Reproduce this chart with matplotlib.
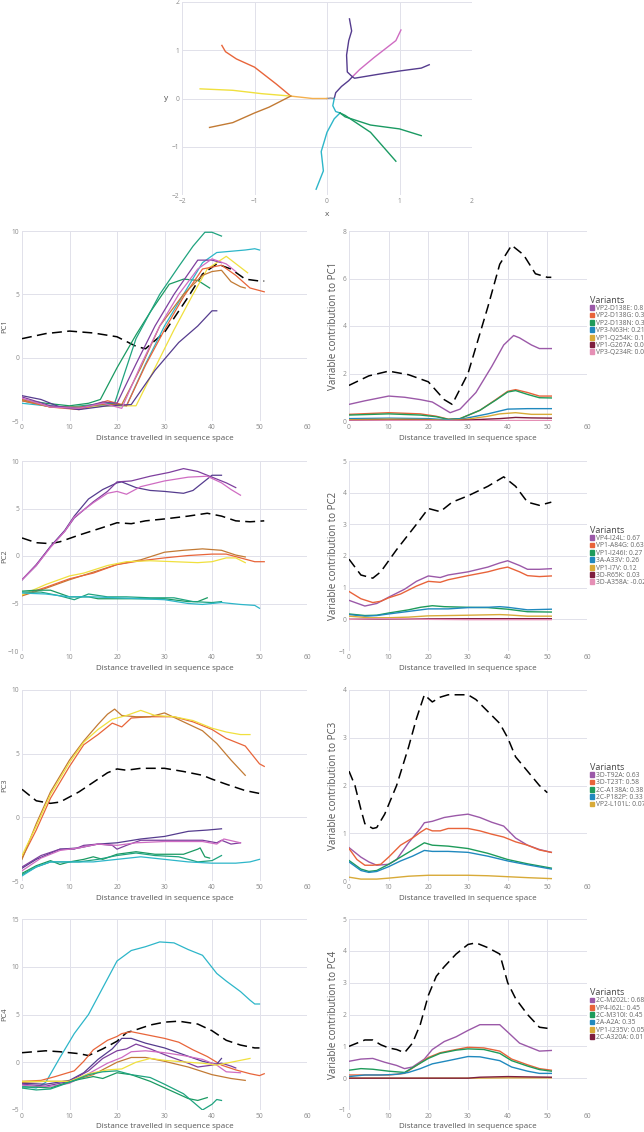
import matplotlib
matplotlib.use("Agg")
import matplotlib.pyplot as plt
from matplotlib.patches import Patch

plt.rcParams['font.family'] = ['Open Sans', 'DejaVu Sans']

# lineage colours (tree + left panels)
LINEAGE_COLORS = {
    'dpurple': '#553C8E', 'purple': '#7E3F9E', 'pink': '#CF6CC2',
    'orange': '#E8653A', 'brown': '#C27A34', 'yellow': '#F0E03E',
    'green': '#1A9A62', 'green2': '#1FA37F', 'cyan': '#2DB6C9',
    'stem': '#F4B04E', 'root': '#8A8A9A',
}
# variant colours (right panels), by rank
VARIANT_COLORS = ['#9B59A8', '#E8633A', '#1E9B5A', '#2089BE', '#D8AA38', '#7E1E3E', '#E58FB5']

# ---- top tree (x, y) ----
TREE = [
    ('root', [0.0, 0.05, 0.1], [0.0, 0.01, 0.0]),
    ('stem', [0.0, -0.2, -0.5], [0.0, 0.0, 0.05]),
    ('orange', [-0.5, -0.7, -1.0, -1.25, -1.4, -1.45], [0.05, 0.3, 0.65, 0.82, 0.97, 1.1]),
    ('yellow', [-0.5, -0.9, -1.3, -1.75], [0.05, 0.1, 0.17, 0.2]),
    ('brown', [-0.5, -0.8, -1.0, -1.3, -1.62], [0.05, -0.18, -0.3, -0.5, -0.6]),
    ('dpurple', [0.1, 0.12, 0.2, 0.3, 0.35], [0.0, 0.12, 0.25, 0.37, 0.45]),
    ('dpurple', [0.35, 0.28, 0.27, 0.3, 0.34, 0.31], [0.45, 0.55, 0.9, 1.2, 1.4, 1.65]),
    ('pink', [0.35, 0.45, 0.65, 0.95, 1.02], [0.45, 0.6, 0.85, 1.2, 1.42]),
    ('dpurple', [0.35, 0.38, 0.7, 1.0, 1.3, 1.41], [0.45, 0.42, 0.5, 0.57, 0.63, 0.7]),
    ('cyan', [0.1, 0.08, 0.12, 0.18], [0.0, -0.15, -0.27, -0.3]),
    ('cyan', [0.18, 0.1, 0.0, -0.08, -0.05, -0.15], [-0.3, -0.42, -0.7, -1.1, -1.5, -1.88]),
    ('green', [0.18, 0.25, 0.6, 1.0, 1.3], [-0.3, -0.38, -0.55, -0.63, -0.77]),
    ('green', [0.18, 0.25, 0.6, 0.95], [-0.3, -0.35, -0.7, -1.3]),
]

# ---- left panels: PC score along each lineage ----
PC1_DASH = [(0, 1.5), (5, 1.9), (10, 2.1), (15, 1.95), (20, 1.65), (24, 0.9), (26, 0.7), (30, 2.0),
            (35, 4.8), (38, 6.6), (41, 7.4), (44, 7.0), (47, 6.2), (50, 6.05), (51, 6.05)]
PC1_LINES = [
    ('green', [(0, -3.3), (5, -3.6), (10, -3.8), (14, -3.6), (16.5, -3.3), (20, -0.8), (24, 1.8), (27, 3.6), (31, 5.8), (34, 6.2), (37, 6.1), (39.5, 5.5)]),
    ('green2', [(0, -3.4), (5, -3.8), (10, -3.9), (15, -3.7), (19.5, -3.6), (24, 1.5), (29, 5.0), (33, 7.2), (36, 8.8), (38.5, 9.9), (40, 9.9), (42, 9.6)]),
    ('cyan', [(0, -3.6), (5, -3.8), (10, -3.9), (16, -3.8), (22, -3.8), (26, -0.5), (30, 2.5), (34, 5.0), (38, 7.5), (41, 8.3), (47, 8.5), (49, 8.6), (50, 8.5)]),
    ('yellow', [(0, -3.3), (6, -3.9), (12, -4.0), (18, -3.8), (24, -3.8), (28, -0.8), (32, 2.2), (36, 5.0), (39, 7.0), (43, 8.0), (47.5, 6.7)]),
    ('orange', [(0, -3.4), (6, -3.9), (12, -4.1), (18, -3.4), (22, -3.8), (26, -0.6), (30, 2.2), (34, 4.8), (38, 7.0), (42, 7.3), (45, 6.5), (48, 5.5), (51, 5.2)]),
    ('brown', [(0, -3.3), (6, -3.9), (12, -3.9), (17, -3.7), (21, -3.7), (25, -0.8), (29, 2.5), (34, 5.0), (38, 6.5), (40, 6.8), (42, 6.9), (44, 6.0), (46, 5.6), (47, 5.5)]),
    ('dpurple', [(0, -3.0), (4, -3.3), (8, -3.9), (12, -4.1), (18, -3.8), (23, -3.7), (28, -1.0), (33, 1.2), (37, 2.5), (40, 3.7), (41, 3.7)]),
    ('purple', [(0, -3.1), (6, -3.8), (12, -4.0), (17, -3.5), (20, -3.6), (24, -0.5), (28, 2.5), (32, 5.0), (37, 7.7), (40, 7.7), (42, 7.5)]),
    ('pink', [(0, -3.2), (6, -3.9), (12, -4.0), (17, -3.6), (21, -4.0), (25, -0.6), (29, 2.5), (33, 5.0), (37, 7.0), (40, 7.8), (43, 7.4), (45, 6.8)]),
]

PC2_DASH = [(0, 1.9), (3, 1.4), (6, 1.3), (8, 1.5), (12, 2.2), (17, 3.0), (20, 3.5), (23, 3.4), (26, 3.7),
            (30, 3.9), (35, 4.2), (39, 4.5), (42, 4.2), (45, 3.7), (48, 3.6), (51, 3.7)]
PC2_LINES = [
    ('dpurple', [(0, -2.5), (3, -1.0), (6, 1.0), (9, 2.7), (11, 4.2), (14, 6.0), (17, 7.0), (20, 7.7), (21, 7.8), (24, 7.2), (27, 6.9), (30, 6.8), (34, 6.6), (36, 6.9), (38, 7.7), (40, 8.5), (42, 8.5)]),
    ('purple', [(0, -2.5), (3, -0.9), (6, 1.0), (9, 2.6), (11, 4.0), (15, 5.7), (18, 6.8), (20, 7.8), (23, 7.9), (27, 8.4), (31, 8.8), (34, 9.2), (37, 8.9), (40, 8.3), (43, 7.7), (45, 7.2)]),
    ('pink', [(0, -2.5), (3, -1.0), (6, 0.9), (9, 2.6), (11, 4.1), (15, 5.6), (18, 6.6), (20, 6.8), (22, 6.5), (25, 7.3), (30, 7.9), (35, 8.3), (39, 8.4), (42, 7.7), (44, 7.0), (46, 6.4)]),
    ('brown', [(0, -4.2), (5, -3.4), (10, -2.5), (15, -1.7), (20, -0.9), (25, -0.4), (30, 0.4), (34, 0.6), (38, 0.75), (42, 0.6), (45, 0.1), (47, -0.1)]),
    ('orange', [(0, -4.1), (5, -3.3), (10, -2.4), (15, -1.8), (20, -0.9), (25, -0.5), (30, -0.2), (35, 0.05), (40, 0.2), (43, 0.2), (46, -0.2), (49, -0.6), (51, -0.6)]),
    ('yellow', [(0, -4.1), (5, -3.0), (10, -2.1), (13, -1.8), (18, -1.0), (22, -0.6), (27, -0.5), (32, -0.6), (37, -0.7), (40, -0.6), (43, -0.2), (45, -0.2), (47, -0.7)]),
    ('green', [(0, -3.7), (3, -3.6), (6, -3.6), (10, -4.3), (14, -4.3), (16, -4.5), (20, -4.5), (25, -4.5), (30, -4.5), (35, -4.8), (37, -4.8), (39, -4.4)]),
    ('green2', [(0, -3.8), (4, -3.8), (8, -4.2), (11, -4.6), (14, -4.0), (18, -4.3), (22, -4.3), (27, -4.4), (32, -4.4), (36, -4.8), (40, -4.9), (42, -4.8)]),
    ('cyan', [(0, -3.9), (5, -4.0), (10, -4.3), (15, -4.3), (20, -4.4), (25, -4.5), (30, -4.6), (35, -5.0), (38, -5.1), (42, -4.9), (46, -5.1), (49, -5.2), (50, -5.5)]),
]

PC3_DASH = [(0, 2.2), (3, 1.3), (6, 1.1), (8, 1.2), (12, 2.0), (16, 3.0), (18, 3.5), (20, 3.8), (22, 3.7),
            (25, 3.85), (30, 3.85), (34, 3.6), (38, 3.3), (40, 3.0), (43, 2.6), (47, 2.1), (51, 1.8)]
PC3_LINES = [
    ('orange', [(0, -3.2), (3, -1.0), (6, 1.5), (10, 4.0), (13, 5.7), (16, 6.5), (19, 7.4), (21, 7.1), (23, 7.8), (27, 7.9), (32, 7.9), (36, 7.5), (40, 6.9), (43, 6.2), (47, 5.6), (50, 4.2), (51, 4.0)]),
    ('brown', [(0, -3.3), (3, -0.5), (6, 2.0), (10, 4.5), (13, 6.0), (16, 7.3), (18, 8.1), (19.5, 8.5), (21, 8.0), (24, 7.9), (27, 7.9), (30, 8.2), (34, 7.5), (38, 6.8), (41, 5.8), (44, 4.5), (47, 3.3)]),
    ('yellow', [(0, -3.0), (3, -0.7), (6, 1.8), (10, 4.3), (13, 5.9), (16, 6.9), (19, 7.7), (22, 8.0), (25, 8.4), (28, 8.0), (32, 7.9), (36, 7.6), (40, 7.0), (43, 6.7), (46, 6.5), (48, 6.5)]),
    ('dpurple', [(0, -4.0), (3, -3.3), (8, -2.5), (12, -2.4), (16, -2.1), (20, -2.0), (25, -1.7), (30, -1.5), (35, -1.1), (39, -1.0), (42, -0.9)]),
    ('purple', [(0, -3.9), (4, -3.0), (8, -2.5), (11, -2.5), (13, -2.2), (16, -2.1), (19, -2.2), (20, -2.5), (22, -2.2), (25, -1.8), (30, -1.8), (35, -1.8), (38, -1.8), (41, -2.0), (42, -1.8), (44, -2.1), (46, -2.0)]),
    ('pink', [(0, -4.2), (4, -3.2), (8, -2.6), (12, -2.4), (16, -2.1), (20, -2.2), (24, -2.0), (30, -1.9), (38, -1.9), (41, -2.1), (42.5, -1.7), (46, -2.0)]),
    ('green', [(0, -4.4), (3, -3.8), (6, -3.4), (8, -3.7), (10, -3.5), (13, -3.3), (15, -3.1), (17, -3.3), (20, -2.9), (24, -2.7), (28, -2.9), (34, -2.9), (37, -2.5), (37.5, -2.4), (38.5, -3.1), (39.5, -3.2)]),
    ('green2', [(0, -4.5), (3, -3.9), (6, -3.5), (12, -3.5), (16, -3.3), (20, -3.0), (24, -2.8), (28, -3.0), (33, -3.1), (37, -3.5), (40, -3.4), (42, -3.0)]),
    ('cyan', [(0, -4.6), (3, -3.9), (6, -3.5), (10, -3.5), (15, -3.5), (20, -3.3), (25, -3.1), (30, -3.3), (35, -3.5), (40, -3.6), (45, -3.6), (48, -3.5), (50, -3.3)]),
]

PC4_DASH = [(0, 1.0), (5, 1.2), (8, 1.1), (12, 0.9), (14, 0.7), (17, 1.4), (20, 2.2), (22, 3.1), (24, 3.4),
            (27, 3.9), (30, 4.2), (33, 4.3), (37, 4.0), (40, 3.3), (43, 2.3), (46, 1.8), (49, 1.5), (50, 1.5)]
PC4_LINES = [
    ('cyan', [(0, -2.5), (3, -2.7), (5, -2.1), (8, 0.5), (11, 3.0), (14, 5.0), (17, 7.8), (20, 10.6), (23, 11.7), (26, 12.1), (29, 12.6), (32, 12.5), (35, 11.8), (38, 11.2), (41, 9.3), (43, 8.5), (46, 7.4), (48, 6.5), (49, 6.1), (50, 6.1)]),
    ('orange', [(0, -2.0), (4, -1.9), (7, -1.5), (11, -0.9), (13, 0.1), (15, 1.3), (18, 2.3), (20, 2.7), (21, 3.0), (23, 3.2), (27, 2.8), (30, 2.5), (33, 2.1), (36, 1.3), (39, 0.6), (42, -0.3), (45, -0.8), (48, -1.2), (50, -1.4), (51, -1.2)]),
    ('dpurple', [(0, -2.2), (5, -2.3), (10, -1.9), (13, -1.1), (16, 0.3), (19, 1.4), (21, 2.5), (23, 2.5), (26, 2.0), (30, 1.5), (34, 0.8), (38, 0.1), (41, -0.2), (42, 0.4)]),
    ('purple', [(0, -2.3), (5, -2.5), (10, -2.0), (14, -0.9), (17, 0.4), (20, 1.2), (22, 1.4), (24, 1.9), (27, 1.4), (31, 0.6), (35, -0.1), (37, -0.5), (40, -0.3), (42, -0.1), (44, -0.4), (45, -0.6)]),
    ('pink', [(0, -2.4), (5, -2.6), (10, -2.2), (14, -1.2), (18, -0.1), (21, 0.5), (23, 1.1), (26, 1.2), (30, 1.0), (34, 0.7), (38, 0.3), (41, -0.3), (43, -1.0), (46, -1.1)]),
    ('brown', [(0, -2.1), (5, -2.0), (10, -2.0), (15, -1.3), (20, 0.0), (23, 0.5), (26, 0.5), (30, 0.1), (35, -0.5), (40, -1.3), (44, -1.7), (47, -1.9)]),
    ('yellow', [(0, -2.0), (5, -2.0), (10, -2.0), (14, -1.2), (18, -0.8), (21, -0.7), (24, 0.0), (27, 0.4), (30, 0.2), (35, 0.0), (38, -0.1), (41, -0.3), (44, 0.0), (48, 0.4)]),
    ('green', [(0, -2.6), (3, -2.6), (6, -2.7), (9, -2.2), (12, -1.8), (15, -1.5), (17, -1.7), (20, -1.1), (23, -1.3), (27, -2.0), (31, -2.9), (35, -3.8), (37, -4.0), (39, -3.7)]),
    ('green2', [(0, -2.7), (3, -2.9), (6, -2.8), (10, -2.1), (14, -1.3), (17, -1.0), (20, -0.9), (23, -1.3), (27, -1.6), (30, -2.3), (34, -3.3), (38, -5.0), (40, -4.4), (41, -3.9), (42, -4.0)]),
]

# ---- right panels: variable contributions ----
PC1_VARIANTS = ['VP2-D138E: 0.8', 'VP2-D138G: 0.35', 'VP2-D138N: 0.38', 'VP3-N63H: 0.21',
                'VP1-Q254K: 0.14', 'VP1-G267A: 0.07', 'VP3-Q234R: 0.02']
PC1_CONTRIB = [
    [(0, 0.7), (4, 0.85), (10, 1.05), (14, 1.0), (18, 0.9), (21, 0.8), (24, 0.5), (25.5, 0.35), (28, 0.5), (32, 1.2), (36, 2.3), (39, 3.2), (41.5, 3.6), (43, 3.5), (46, 3.2), (48, 3.05), (51, 3.05)],
    [(0, 0.28), (10, 0.35), (18, 0.3), (22, 0.2), (25, 0.08), (28, 0.1), (33, 0.45), (37, 0.9), (40, 1.25), (42, 1.32), (45, 1.2), (48, 1.05), (51, 1.05)],
    [(0, 0.25), (10, 0.3), (18, 0.25), (22, 0.18), (25, 0.07), (28, 0.1), (33, 0.45), (37, 0.88), (40, 1.22), (42, 1.28), (45, 1.12), (48, 0.98), (51, 0.97)],
    [(0, 0.1), (10, 0.12), (20, 0.1), (25, 0.05), (29, 0.1), (35, 0.3), (40, 0.5), (45, 0.52), (51, 0.52)],
    [(0, 0.05), (10, 0.08), (20, 0.06), (25, 0.02), (30, 0.08), (35, 0.2), (38, 0.3), (42, 0.35), (46, 0.28), (51, 0.28)],
    [(0, 0.02), (10, 0.03), (20, 0.03), (25, 0.01), (30, 0.04), (35, 0.08), (38, 0.1), (42, 0.15), (46, 0.13), (51, 0.12)],
    [(0, 0.0), (10, 0.01), (20, 0.01), (30, 0.0), (40, 0.02), (51, 0.02)],
]
PC2_VARIANTS = ['VP4-I24L: 0.67', 'VP1-A84G: 0.63', 'VP1-I246I: 0.27', '3A-A33V: 0.26',
                'VP1-I7V: 0.12', '3D-R65K: 0.03', '3D-A358A: -0.02']
PC2_CONTRIB = [
    [(0, 0.6), (4, 0.42), (7, 0.5), (10, 0.7), (14, 0.95), (17, 1.2), (20, 1.37), (23, 1.32), (25, 1.4), (30, 1.5), (35, 1.65), (38, 1.78), (40, 1.85), (43, 1.7), (45, 1.58), (48, 1.58), (51, 1.6)],
    [(0, 0.88), (3, 0.65), (6, 0.53), (8, 0.57), (10, 0.68), (13, 0.8), (17, 1.05), (20, 1.2), (23, 1.17), (25, 1.25), (30, 1.38), (35, 1.5), (38, 1.6), (40, 1.65), (43, 1.5), (45, 1.38), (48, 1.35), (51, 1.37)],
    [(0, 0.17), (4, 0.12), (7, 0.13), (10, 0.2), (15, 0.3), (18, 0.38), (21, 0.43), (24, 0.4), (30, 0.38), (35, 0.37), (40, 0.32), (45, 0.24), (51, 0.23)],
    [(0, 0.15), (4, 0.1), (7, 0.12), (10, 0.17), (15, 0.25), (20, 0.33), (25, 0.33), (30, 0.37), (35, 0.38), (38, 0.4), (40, 0.38), (45, 0.3), (51, 0.32)],
    [(0, 0.1), (5, 0.05), (10, 0.05), (15, 0.07), (20, 0.11), (25, 0.12), (30, 0.13), (38, 0.15), (40, 0.14), (45, 0.1), (51, 0.1)],
    [(0, 0.0), (10, 0.01), (20, 0.02), (30, 0.02), (40, 0.02), (51, 0.02)],
    [(0, 0.0), (8, 0.02), (14, 0.02), (20, 0.0), (30, -0.01), (51, -0.01)],
]
PC3_VARIANTS = ['3D-T92A: 0.63', '3D-T23T: 0.58', '2C-A138A: 0.38', '2C-P182P: 0.33', 'VP2-L101L: 0.07']
PC3_CONTRIB = [
    [(0, 0.7), (3, 0.5), (5, 0.4), (7, 0.33), (10, 0.35), (12, 0.45), (15, 0.8), (18, 1.1), (19, 1.22), (21, 1.25), (24, 1.33), (27, 1.37), (30, 1.4), (33, 1.33), (36, 1.23), (39, 1.15), (42, 0.9), (45, 0.75), (48, 0.66), (51, 0.6)],
    [(0, 0.68), (2, 0.45), (4, 0.33), (6, 0.33), (8, 0.35), (10, 0.5), (13, 0.75), (16, 0.9), (18, 1.02), (19.5, 1.1), (21, 1.05), (23, 1.05), (25, 1.1), (30, 1.1), (33, 1.05), (36, 0.98), (39, 0.92), (42, 0.82), (45, 0.75), (48, 0.65), (51, 0.6)],
    [(0, 0.43), (3, 0.25), (5, 0.2), (7, 0.22), (10, 0.35), (13, 0.5), (16, 0.65), (19, 0.8), (21, 0.75), (25, 0.73), (30, 0.68), (35, 0.58), (40, 0.45), (45, 0.36), (51, 0.27)],
    [(0, 0.4), (3, 0.22), (5, 0.18), (7, 0.2), (10, 0.3), (13, 0.42), (16, 0.52), (19, 0.64), (21, 0.62), (25, 0.62), (30, 0.6), (35, 0.52), (40, 0.42), (45, 0.34), (51, 0.25)],
    [(0, 0.08), (3, 0.04), (7, 0.04), (10, 0.06), (15, 0.1), (20, 0.12), (25, 0.12), (30, 0.12), (35, 0.11), (40, 0.09), (45, 0.07), (51, 0.05)],
]
PC3_DASH_R = [(0, 2.3), (1.5, 2.0), (3, 1.5), (4, 1.2), (6, 1.1), (7, 1.12), (9, 1.4), (12, 2.0), (15, 2.8), (17, 3.4),
              (19, 3.9), (21, 3.75), (23, 3.85), (25, 3.9), (27, 3.9), (30, 3.9), (32, 3.8), (35, 3.55), (38, 3.3),
              (40, 3.0), (42, 2.6), (45, 2.3), (48, 2.0), (50, 1.85)]
PC4_VARIANTS = ['2C-M202L: 0.68', 'VP4-I62L: 0.45', '2C-M310I: 0.45', '2A-A2A: 0.35',
                'VP1-I235V: 0.05', '2C-A320A: 0.01']
PC4_CONTRIB = [
    [(0, 0.53), (3, 0.6), (6, 0.62), (9, 0.5), (12, 0.4), (14, 0.3), (16, 0.35), (19, 0.6), (21, 0.9), (24, 1.15), (27, 1.3), (30, 1.5), (33, 1.68), (38, 1.68), (40, 1.45), (43, 1.1), (46, 0.95), (48, 0.85), (51, 0.87)],
    [(0, 0.1), (5, 0.1), (10, 0.1), (14, 0.15), (17, 0.4), (20, 0.65), (23, 0.8), (27, 0.9), (30, 0.97), (34, 0.95), (38, 0.85), (41, 0.6), (45, 0.42), (48, 0.3), (51, 0.25)],
    [(0, 0.25), (3, 0.3), (6, 0.28), (10, 0.22), (14, 0.18), (17, 0.4), (20, 0.62), (23, 0.78), (27, 0.88), (30, 0.92), (34, 0.9), (38, 0.78), (41, 0.55), (45, 0.38), (48, 0.27), (51, 0.22)],
    [(0, 0.05), (4, 0.1), (8, 0.1), (12, 0.12), (15, 0.18), (18, 0.3), (21, 0.45), (25, 0.55), (30, 0.68), (33, 0.67), (38, 0.55), (41, 0.35), (45, 0.22), (48, 0.15), (51, 0.15)],
    [(0, 0.0), (20, 0.0), (30, 0.0), (40, 0.01), (51, 0.01)],
    [(0, 0.0), (30, 0.0), (33, 0.03), (40, 0.05), (45, 0.04), (51, 0.03)],
]
PC4_DASH_R = [(0, 1.0), (2, 1.1), (4, 1.2), (6, 1.2), (8, 1.05), (10, 0.95), (12, 0.9), (14, 0.8), (16, 1.1), (18, 1.7),
              (20, 2.6), (22, 3.2), (24, 3.5), (27, 3.9), (30, 4.2), (32, 4.25), (35, 4.1), (38, 3.9), (40, 3.0),
              (42, 2.5), (45, 2.0), (48, 1.6), (51, 1.55)]

GRID = '#E1E1EA'
TICK = '#8A8A8A'
LABEL = '#555555'
W, H = 644, 1132


def style(ax, xlim, ylim, xticks, yticks):
    ax.set_xlim(*xlim)
    ax.set_ylim(*ylim)
    ax.set_xticks(xticks)
    ax.set_yticks(yticks)
    for s in ax.spines.values():
        s.set_visible(False)
    ax.grid(True, color=GRID, lw=0.7)
    ax.set_axisbelow(True)
    ax.tick_params(length=0, labelsize=4.8, labelcolor=TICK, pad=2)


def add_axes(fig, left, top, right, bottom):
    return fig.add_axes([left / W, 1 - bottom / H, (right - left) / W, (bottom - top) / H])


def xy(points):
    return [p[0] for p in points], [p[1] for p in points]


def dashed(ax, points):
    x, y = xy(points)
    ax.plot(x, y, color='black', lw=1.1, dashes=(6.5, 3.5))


fig = plt.figure(figsize=(W / 100, H / 100), dpi=100)

# top: tree in PC space
ax = add_axes(fig, 182, 2, 472, 195)
style(ax, (-2, 2), (-2, 2), [-2, -1, 0, 1, 2], [-2, -1, 0, 1, 2])
for name, x, y in TREE:
    ax.plot(x, y, color=LINEAGE_COLORS[name], lw=1.0)
ax.set_xlabel('x', fontsize=6, color=LABEL)
ax.set_ylabel('y', fontsize=6, color=LABEL, rotation=0, va='center')
ax.xaxis.set_label_coords(0.5, -0.085)
ax.yaxis.set_label_coords(-0.055, 0.5)

rows = [
    (231, 421, (-5, 10), [-5, 0, 5, 10], PC1_LINES, PC1_DASH, 'PC1',
     (0, 8), [0, 2, 4, 6, 8], PC1_VARIANTS, PC1_CONTRIB, PC1_DASH),
    (461, 651, (-10, 10), [-10, -5, 0, 5, 10], PC2_LINES, PC2_DASH, 'PC2',
     (-1, 5), [-1, 0, 1, 2, 3, 4, 5], PC2_VARIANTS, PC2_CONTRIB, PC2_DASH),
    (690, 881, (-5, 10), [-5, 0, 5, 10], PC3_LINES, PC3_DASH, 'PC3',
     (0, 4), [0, 1, 2, 3, 4], PC3_VARIANTS, PC3_CONTRIB, PC3_DASH_R),
    (919, 1110, (-5, 15), [-5, 0, 5, 10, 15], PC4_LINES, PC4_DASH, 'PC4',
     (-1, 5), [-1, 0, 1, 2, 3, 4, 5], PC4_VARIANTS, PC4_CONTRIB, PC4_DASH_R),
]

for (top, bottom, ylim, yticks, lines, dash, pc,
     rylim, ryticks, variants, contrib, rdash) in rows:
    height = bottom - top
    # left: PC score along lineages
    ax = add_axes(fig, 22, top, 307, bottom)
    style(ax, (0, 60), ylim, range(0, 61, 10), yticks)
    dashed(ax, dash)
    for name, pts in lines:
        x, y = xy(pts)
        ax.plot(x, y, color=LINEAGE_COLORS[name], lw=0.9)
    ax.set_ylabel(pc, fontsize=5.5, color=LABEL, va='center')
    ax.yaxis.set_label_coords(-17 / 285, 0.5)
    ax.set_xlabel('Distance travelled in sequence space', fontsize=5.8, color=LABEL, va='center')
    ax.xaxis.set_label_coords(0.5, -17 / height)

    # right: variable contributions
    ax = add_axes(fig, 349, top, 587, bottom)
    style(ax, (0, 60), rylim, range(0, 61, 10), ryticks)
    dashed(ax, rdash)
    for i, pts in enumerate(contrib):
        x, y = xy(pts)
        ax.plot(x, y, color=VARIANT_COLORS[i], lw=1.0)
    ax.set_ylabel('Variable contribution to ' + pc, fontsize=7, color=LABEL, va='center')
    ax.yaxis.set_label_coords(-16 / 238, 0.5)
    ax.set_xlabel('Distance travelled in sequence space', fontsize=5.8, color=LABEL, va='center')
    ax.xaxis.set_label_coords(0.5, -17 / height)
    handles = [Patch(color=VARIANT_COLORS[i], label=v) for i, v in enumerate(variants)]
    leg = ax.legend(handles=handles, title='Variants', loc='center left',
                    bbox_to_anchor=(1.0, 0.5), frameon=False, fontsize=4.9,
                    title_fontsize=6.5, handlelength=0.7, handleheight=0.7,
                    handletextpad=0.2, labelspacing=0.05, borderpad=0.2, borderaxespad=0.2)
    leg._legend_box.align = 'left'
    for t in leg.get_texts():
        t.set_color('#666666')
    leg.get_title().set_color('#444444')

fig.savefig('out.png', dpi=100)
